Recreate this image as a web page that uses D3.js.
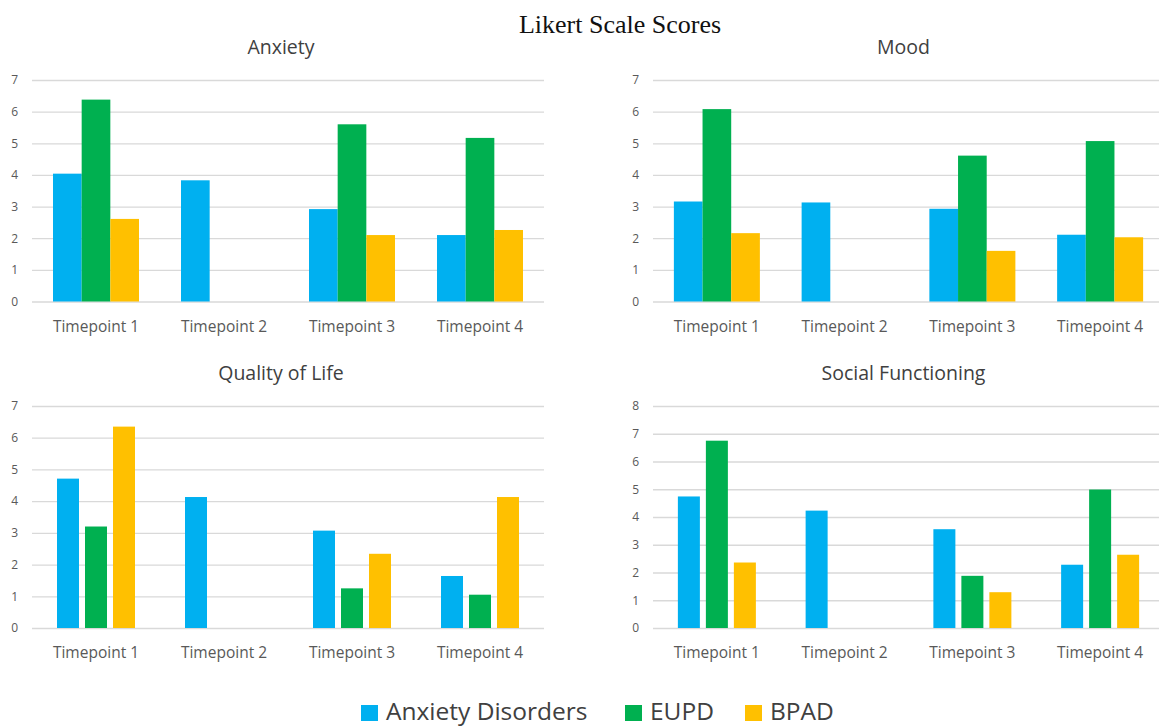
<!DOCTYPE html>
<html>
<head>
<meta charset="utf-8">
<script src="https://cdn.jsdelivr.net/npm/d3@7"></script>
<style>
  html, body { margin: 0; padding: 0; background: #fff; }
  svg { display: block; }
</style>
</head>
<body>
<svg id="chart" width="1159" height="727"></svg>
<script>
// ---- Data ----
const categories = ["Timepoint 1", "Timepoint 2", "Timepoint 3", "Timepoint 4"];
const seriesNames = ["Anxiety Disorders", "EUPD", "BPAD"];
const seriesColors = ["#00B0F0", "#00B050", "#FFC000"];

const anxietyAD   = [4.04, 3.83, 2.92, 2.10];
const anxietyEUPD = [6.38, 0, 5.60, 5.17];
const anxietyBPAD = [2.61, 0, 2.10, 2.26];

const moodAD   = [3.16, 3.13, 2.93, 2.11];
const moodEUPD = [6.08, 0, 4.61, 5.07];
const moodBPAD = [2.16, 0, 1.60, 2.03];

const qolAD   = [4.71, 4.13, 3.07, 1.64];
const qolEUPD = [3.20, 0, 1.25, 1.05];
const qolBPAD = [6.35, 0, 2.34, 4.13];

const socialAD   = [4.74, 4.23, 3.56, 2.28];
const socialEUPD = [6.75, 0, 1.88, 4.99];
const socialBPAD = [2.36, 0, 1.29, 2.64];

const ticks7 = [0, 1, 2, 3, 4, 5, 6, 7];
const ticks8 = [0, 1, 2, 3, 4, 5, 6, 7, 8];

// ---- Layout ----
const panels = [
  { title: "Anxiety", series: [anxietyAD, anxietyEUPD, anxietyBPAD], ticks: ticks7,
    x: [32, 544], y: [301.5, 80], titleY: 54, labelY: 332, group: 86, gap: 0 },
  { title: "Mood", series: [moodAD, moodEUPD, moodBPAD], ticks: ticks7,
    x: [653, 1164], y: [301.5, 80], titleY: 54, labelY: 332, group: 86, gap: 0 },
  { title: "Quality of Life", series: [qolAD, qolEUPD, qolBPAD], ticks: ticks7,
    x: [32, 544], y: [628, 406], titleY: 380, labelY: 658, group: 78, gap: 6 },
  { title: "Social Functioning", series: [socialAD, socialEUPD, socialBPAD], ticks: ticks8,
    x: [653, 1164], y: [628, 406], titleY: 380, labelY: 658, group: 78, gap: 6 }
];

const svg = d3.select("#chart");
const textColor = "#595959";
const sans = "'Open Sans', 'Noto Sans', sans-serif";

svg.append("text")
  .attr("x", 620).attr("y", 33)
  .attr("text-anchor", "middle")
  .attr("font-family", "'Liberation Serif', 'Times New Roman', serif")
  .attr("font-size", 26)
  .attr("fill", "#111")
  .text("Likert Scale Scores");

panels.forEach(p => {
  const g = svg.append("g");
  const yMax = d3.max(p.ticks);
  const y = d3.scaleLinear().domain([0, yMax]).range(p.y);
  const step = (p.x[1] - p.x[0]) / categories.length;
  const pin = 1 - p.group / step;
  const x0 = d3.scaleBand().domain(categories).range(p.x)
    .paddingInner(pin).paddingOuter(pin / 2);
  const barW = (p.group - 2 * p.gap) / 3;
  const x1 = d3.scaleBand().domain(seriesNames).range([0, x0.bandwidth()])
    .paddingInner(p.gap / (barW + p.gap)).paddingOuter(0);

  // gridlines + y labels via axis
  const yAxis = d3.axisLeft(y).tickValues(p.ticks).tickSize(-(p.x[1] - p.x[0])).tickPadding(14)
    .tickFormat(d3.format("d"));
  const ay = g.append("g").attr("transform", `translate(${p.x[0]},0)`).call(yAxis);
  ay.select(".domain").remove();
  ay.selectAll(".tick line").attr("stroke", "#d9d9d9").attr("stroke-width", 1.3);
  ay.selectAll(".tick text").attr("fill", textColor).attr("font-family", sans).attr("font-size", 12);

  // bars
  seriesNames.forEach((s, si) => {
    g.append("g").selectAll("rect")
      .data(p.series[si].map((v, i) => ({ c: categories[i], v })))
      .join("rect")
      .attr("x", d => x0(d.c) + x1(s))
      .attr("width", x1.bandwidth())
      .attr("y", d => y(d.v))
      .attr("height", d => y(0) - y(d.v))
      .attr("fill", seriesColors[si]);
  });

  // x labels
  const xAxis = d3.axisBottom(x0).tickSize(0).tickPadding(0);
  const ax = g.append("g").attr("transform", `translate(0,${p.labelY})`).call(xAxis);
  ax.select(".domain").remove();
  ax.selectAll(".tick text").attr("dy", 0).attr("y", 0)
    .attr("fill", textColor).attr("font-family", sans).attr("font-size", 15.5);

  // panel title
  g.append("text")
    .attr("x", (p.x[0] + p.x[1]) / 2 + (p.x[0] > 600 ? -5 : 0) - (p.x[0] < 600 ? 7 : 0))
    .attr("y", p.titleY)
    .attr("text-anchor", "middle")
    .attr("font-family", sans).attr("font-size", 19.5)
    .attr("fill", "#404040")
    .text(p.title);
});

// legend
const legendX = [361, 625, 745];
seriesNames.forEach((s, i) => {
  svg.append("rect").attr("x", legendX[i]).attr("y", 705).attr("width", 17).attr("height", 16)
    .attr("fill", seriesColors[i]);
  svg.append("text").attr("x", legendX[i] + 25).attr("y", 720)
    .attr("font-family", sans).attr("font-size", 24.5).attr("fill", "#404040")
    .text(s);
});
</script>
</body>
</html>
